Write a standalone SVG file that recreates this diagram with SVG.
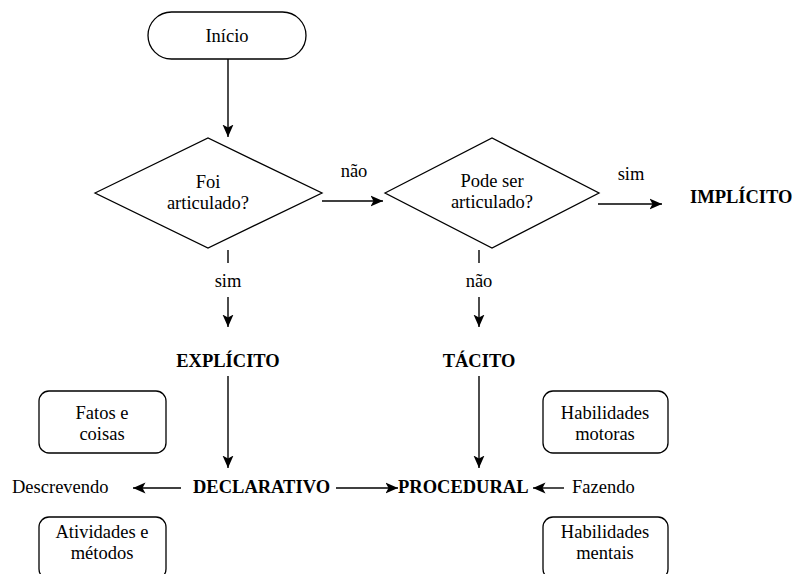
<svg xmlns="http://www.w3.org/2000/svg" width="795" height="574" viewBox="0 0 795 574">
  <style>
    .shape { fill: #fff; stroke: #000; stroke-width: 1.3; }
    .line { fill: none; stroke: #000; stroke-width: 1.4; }
    text { font-family: "Liberation Serif", serif; font-size: 18.5px; fill: #000; }
    .mid { text-anchor: middle; }
    .bold { font-weight: bold; }
  </style>
  <defs>
    <!-- swept-back filled arrowhead -->
    <marker id="arrow" markerUnits="userSpaceOnUse" markerWidth="13" markerHeight="12" viewBox="0 0 13 12" refX="12.5" refY="6" orient="auto">
      <path d="M0,0.5 L12.5,6 L0,11.5 L3,6 Z" fill="#000"/>
    </marker>
  </defs>
  <rect width="795" height="574" fill="#fff"/>

  <g id="connectors">
    <line class="line" x1="228" y1="59" x2="228" y2="137" marker-end="url(#arrow)"/>
    <line class="line" x1="322" y1="201" x2="383" y2="201" marker-end="url(#arrow)"/>
    <line class="line" x1="598" y1="204" x2="662" y2="204" marker-end="url(#arrow)"/>
    <line class="line" x1="228" y1="250" x2="228" y2="263"/>
    <line class="line" x1="228" y1="297" x2="228" y2="327" marker-end="url(#arrow)"/>
    <line class="line" x1="479" y1="250" x2="479" y2="263"/>
    <line class="line" x1="479" y1="297" x2="479" y2="327" marker-end="url(#arrow)"/>
    <line class="line" x1="228" y1="376" x2="228" y2="468" marker-end="url(#arrow)"/>
    <line class="line" x1="479" y1="376" x2="479" y2="468" marker-end="url(#arrow)"/>
    <line class="line" x1="181" y1="488" x2="133" y2="488" marker-end="url(#arrow)"/>
    <line class="line" x1="336" y1="488" x2="398" y2="488" marker-end="url(#arrow)"/>
    <line class="line" x1="564" y1="488" x2="533" y2="488" marker-end="url(#arrow)"/>
    <text class="mid" x="354" y="177">não</text>
    <text class="mid" x="631" y="180">sim</text>
    <text class="mid" x="228" y="287">sim</text>
    <text class="mid" x="479" y="287">não</text>
  </g>

  <g id="inicio">
    <rect class="shape" x="148" y="12" width="158" height="47" rx="23.5"/>
    <text class="mid" x="227" y="42">Início</text>
  </g>

  <g id="foi-articulado">
    <polygon class="shape" points="95,193 208,138 322,193 208,248"/>
    <text class="mid" x="208" y="188">Foi</text>
    <text class="mid" x="208" y="209">articulado?</text>
  </g>

  <g id="pode-ser-articulado">
    <polygon class="shape" points="385,193 492,138 599,193 492,248"/>
    <text class="mid" x="492" y="187">Pode ser</text>
    <text class="mid" x="492" y="208">articulado?</text>
  </g>

  <g id="implicito">
    <text class="bold" x="690" y="203">IMPLÍCITO</text>
  </g>

  <g id="explicito">
    <text class="mid bold" x="228" y="367">EXPLÍCITO</text>
  </g>

  <g id="tacito">
    <text class="mid bold" x="479" y="367">TÁCITO</text>
  </g>

  <g id="declarativo">
    <text class="bold" x="193" y="493">DECLARATIVO</text>
  </g>

  <g id="procedural">
    <text class="bold" x="398" y="493">PROCEDURAL</text>
  </g>

  <g id="descrevendo">
    <text x="12" y="493">Descrevendo</text>
  </g>

  <g id="fazendo">
    <text x="572" y="493">Fazendo</text>
  </g>

  <g id="fatos-coisas">
    <rect class="shape" x="39" y="391" width="127" height="62" rx="10"/>
    <text class="mid" x="102" y="419">Fatos e</text>
    <text class="mid" x="102" y="440">coisas</text>
  </g>

  <g id="atividades-metodos">
    <rect class="shape" x="39" y="517" width="127" height="62" rx="10"/>
    <text class="mid" x="102" y="538">Atividades e</text>
    <text class="mid" x="102" y="559">métodos</text>
  </g>

  <g id="habilidades-motoras">
    <rect class="shape" x="543" y="391" width="125" height="62" rx="10"/>
    <text class="mid" x="605" y="419">Habilidades</text>
    <text class="mid" x="605" y="440">motoras</text>
  </g>

  <g id="habilidades-mentais">
    <rect class="shape" x="543" y="517" width="125" height="62" rx="10"/>
    <text class="mid" x="605" y="538">Habilidades</text>
    <text class="mid" x="605" y="559">mentais</text>
  </g>
</svg>
